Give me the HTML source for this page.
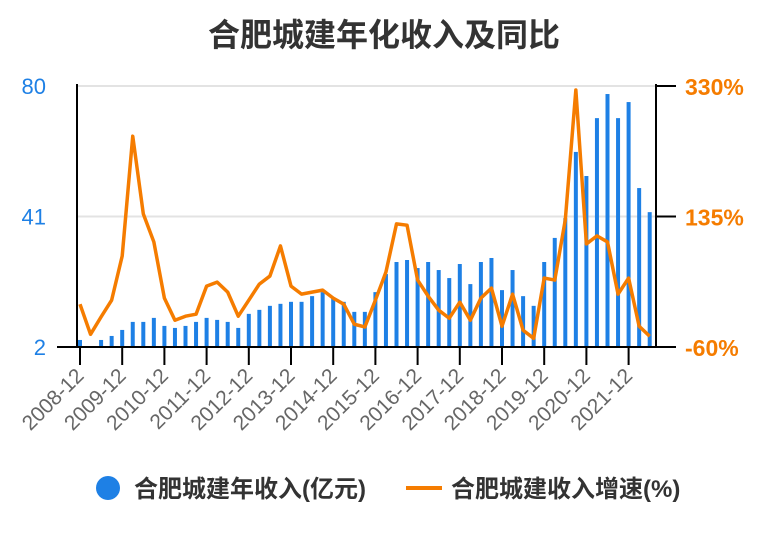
<!DOCTYPE html>
<html><head><meta charset="utf-8"><style>
body{margin:0;background:#fff;}
svg{display:block;font-family:"Liberation Sans","Noto Sans CJK SC",sans-serif;}
</style></head><body>
<svg width="768" height="540" id="c">
<text x="384" y="46" text-anchor="middle" font-size="32" font-weight="bold" fill="#333">合肥城建年化收入及同比</text>
<g id="grid"></g><g id="bars"></g><g id="line"></g><g id="axes"></g>
<g>
<circle cx="108" cy="488" r="12" fill="#1e80e5"/>
<text x="134" y="497" font-size="24" font-weight="bold" fill="#333">合肥城建年收入(亿元)</text>
<rect x="406" y="486" width="36" height="4" fill="#f57c00"/>
<text x="451" y="497" font-size="24" font-weight="bold" fill="#333">合肥城建收入增速(%)</text>
</g>
</svg>
<script>
const revenue=[4.1,null,4.1,5.3,7.1,9.5,9.5,10.7,8.3,7.7,8.3,9.5,10.7,10.1,9.5,7.7,11.9,13.1,14.3,14.9,15.5,15.5,17.2,18.4,16.6,15.5,12.5,12.5,18.4,23.8,27.4,28,25.6,27.4,25,22.6,26.8,20.8,27.4,28.6,19,25,17.2,14.3,27.4,34.6,40.5,60.3,53.1,70.4,77.6,70.4,75.2,49.5,42.3];
const growth=[4,-41,-15,10,76,255,139,97,13,-20,-14,-11,31,37,22,-14,10,34,46,91,31,19,22,25,13,4,-26,-30,10,52,124,122,40,16,-5,-17,7,-20,13,28,-29,19,-35,-47,43,40,130,324,94,106,97,19,43,-29,-44];
const yearLabels=["2008-12","2009-12","2010-12","2011-12","2012-12","2013-12","2014-12","2015-12","2016-12","2017-12","2018-12","2019-12","2020-12","2021-12"];
const leftTicks=[2,41,80];
const rightTicks=["-60%","135%","330%"];
const rightVals=[-60,135,330];
const NS="http://www.w3.org/2000/svg";
const X0=80,DX=10.55,T=86,B=347;
const xs=i=>X0+i*DX;
const yl=v=>B-(v-2)/(80-2)*(B-T);
const yr=v=>B-(v+60)/(330+60)*(B-T);
function mk(tag,attrs,parent){const e=document.createElementNS(NS,tag);for(const k in attrs)e.setAttribute(k,attrs[k]);document.getElementById(parent).appendChild(e);return e;}
leftTicks.forEach((v,i)=>{
 if(i>0){const g=mk('line',{x1:78,x2:656,y1:yl(v),y2:yl(v),stroke:'#e3e3e3','stroke-width':2},'grid');
 
 }
 const t=mk('text',{x:46,y:yl(v)+8,'text-anchor':'end','font-size':22,fill:'#1e80e5'},'axes');t.textContent=v;
 
 
});
rightVals.forEach((v,i)=>{
 const l=mk('line',{x1:656,x2:676,y1:yr(v),y2:yr(v),stroke:'#000','stroke-width':2},'axes');
 
 
 const t=mk('text',{x:685,y:yr(v)+9,'font-size':23,'font-weight':'bold',fill:'#f57c00'},'axes');t.textContent=rightTicks[i];
 
 
});
revenue.forEach((v,i)=>{if(v==null)return;
 const r=mk('rect',{x:xs(i)-2,y:yl(v),width:4,height:B-yl(v),fill:'#1e80e5'},'bars');
 
 
});
const p=mk('polyline',{points:growth.map((v,i)=>xs(i)+','+yr(v)).join(' '),fill:'none',stroke:'#f57c00','stroke-width':3.5,'stroke-linejoin':'round'},'line');


let a=mk('line',{x1:57,x2:657,y1:B,y2:B,stroke:'#000','stroke-width':2},'axes');


a=mk('line',{x1:77,x2:77,y1:T-2,y2:B,stroke:'#000','stroke-width':2},'axes');


a=mk('line',{x1:656,x2:656,y1:T-2,y2:B,stroke:'#000','stroke-width':2},'axes');


yearLabels.forEach((s,k)=>{const x=xs(k*4);
 const l=mk('line',{x1:x,x2:x,y1:B,y2:365,stroke:'#000','stroke-width':2},'axes');
 
 
 const t=mk('text',{x:x+5,y:377,'text-anchor':'end','font-size':21,fill:'#666',transform:`rotate(-45 ${x+5} 377)`},'axes');t.textContent=s;
 
 
});
</script>
</body></html>
